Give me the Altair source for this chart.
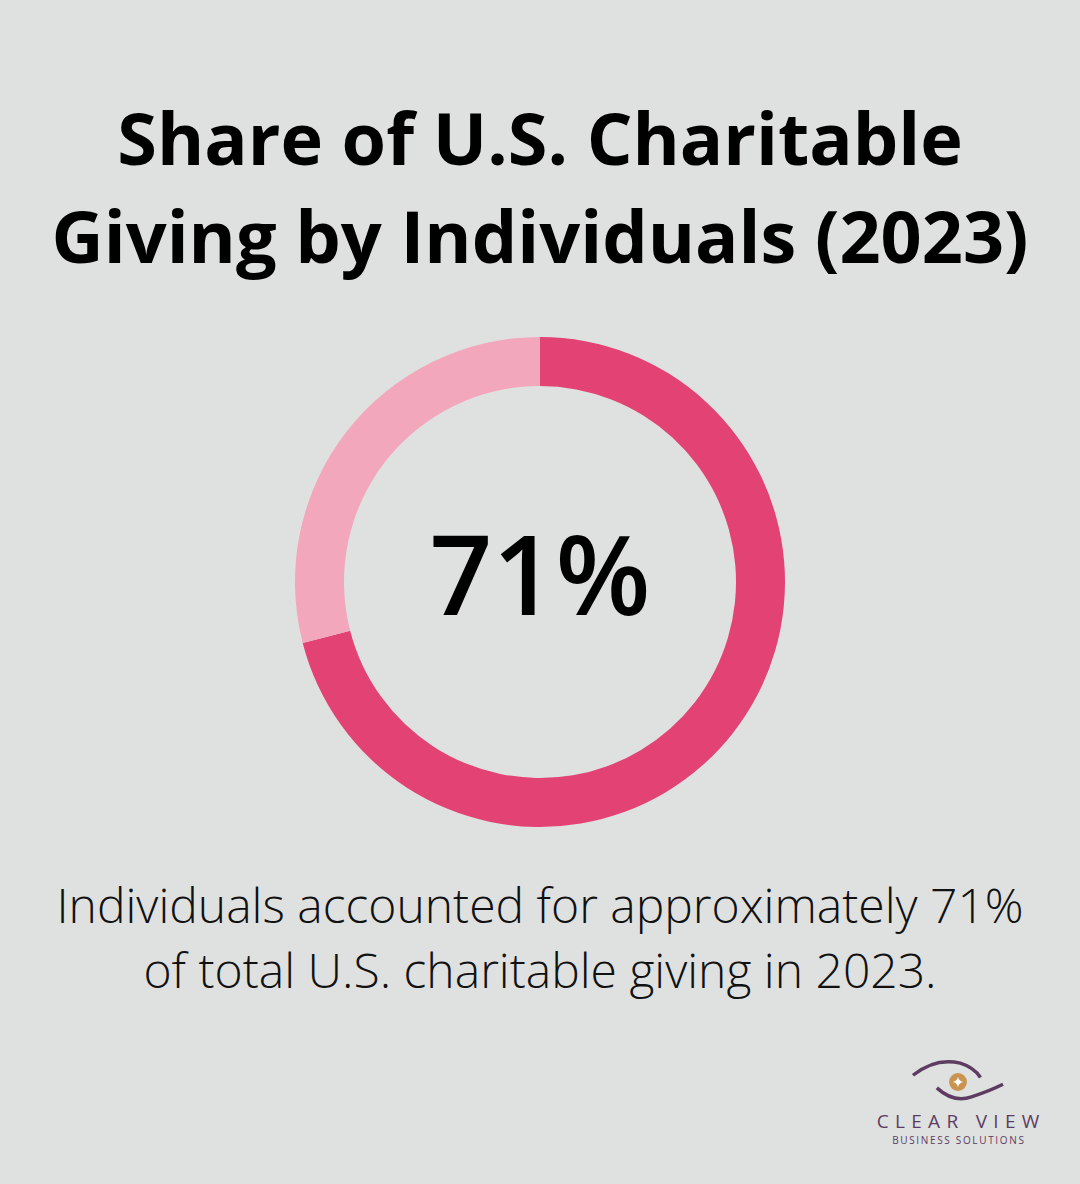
import altair as alt
import pandas as pd

# Shares of total U.S. charitable giving, 2023
segments = ["Individuals", "Other sources"]
shares = [71, 29]
segment_colors = ["#E34275", "#F2A7BD"]

title_lines = ["Share of U.S. Charitable", "Giving by Individuals (2023)"]
caption_lines = [
    "Individuals accounted for approximately 71%",
    "of total U.S. charitable giving in 2023.",
]
center_label = "71%"
brand_name = "CLEAR VIEW"
brand_tagline = "BUSINESS SOLUTIONS"

W, H = 1080, 1184
CX, CY = 540, 582
FONT = "Open Sans"

donut_df = pd.DataFrame({"segment": segments, "share": shares, "order": list(range(len(segments)))})

donut = alt.Chart(donut_df).mark_arc(radius=245, radius2=196, stroke=None).encode(
    theta=alt.Theta("share:Q", stack=True),
    order=alt.Order("order:Q"),
    color=alt.Color("segment:N", scale=alt.Scale(domain=segments, range=segment_colors), legend=None),
    x=alt.value(CX),
    y=alt.value(CY),
)


def tracked(s, gap="\u2009"):
    """Widen letter spacing with thin spaces between characters."""
    return gap.join(s)


def text_layer(txt, x, y, size, weight, color="#000000", font=FONT):
    return alt.Chart(pd.DataFrame({"t": [txt]})).mark_text(
        font=font, fontSize=size, fontWeight=weight, color=color,
        align="center", baseline="alphabetic",
    ).encode(text="t:N", x=alt.value(x), y=alt.value(y))


title = [
    text_layer(title_lines[0], W / 2, 165, 72, "bold"),
    text_layer(title_lines[1], W / 2, 263, 72, "bold"),
]
center = text_layer(center_label, CX, 615, 110, 600)
caption = [
    text_layer(caption_lines[0], W / 2, 923, 48, 300, "#111111"),
    text_layer(caption_lines[1], W / 2, 988, 48, 300, "#111111"),
]

# Logo: eye-shaped swooshes around a gold disc with a four-point star
LX, LY = 958, 1082
purple = "#5E3C62"
logo_df = pd.DataFrame({"k": [0]})
upper_swoosh = alt.Chart(logo_df).mark_point(
    shape="M-1,-0.15 Q-0.5,-0.55 0.05,-0.42 Q0.35,-0.33 0.5,-0.1",
    size=8100, filled=False, stroke=purple, strokeWidth=3.5, opacity=1,
).encode(x=alt.value(LX), y=alt.value(LY))
lower_swoosh = alt.Chart(logo_df).mark_point(
    shape="M-0.47,0.13 Q-0.1,0.47 0.3,0.33 Q0.7,0.2 1,0.05",
    size=8100, filled=False, stroke=purple, strokeWidth=3.5, opacity=1,
).encode(x=alt.value(LX), y=alt.value(LY))
disc = alt.Chart(logo_df).mark_point(
    shape="circle", size=320, filled=True, color="#C9944F", opacity=1,
).encode(x=alt.value(LX), y=alt.value(LY))
star = alt.Chart(logo_df).mark_point(
    shape="M0,-1 Q0.15,-0.15 1,0 Q0.15,0.15 0,1 Q-0.15,0.15 -1,0 Q-0.15,-0.15 0,-1 Z",
    size=110, filled=True, color="#FFFFFF", opacity=1,
).encode(x=alt.value(LX), y=alt.value(LY))
brand = [
    text_layer(tracked(brand_name, "\u2009\u2009"), LX, 1128, 19, 500, purple),
    text_layer(tracked(brand_tagline), LX, 1144, 10, 400, purple),
]

chart = alt.layer(
    donut, *title, center, *caption, upper_swoosh, lower_swoosh, disc, star, *brand
).properties(
    width=W, height=H, autosize="none", padding=0, background="#DFE1E0"
).configure_view(stroke=None)

chart.save("out.html", embed_options={"renderer": "svg", "actions": False})
